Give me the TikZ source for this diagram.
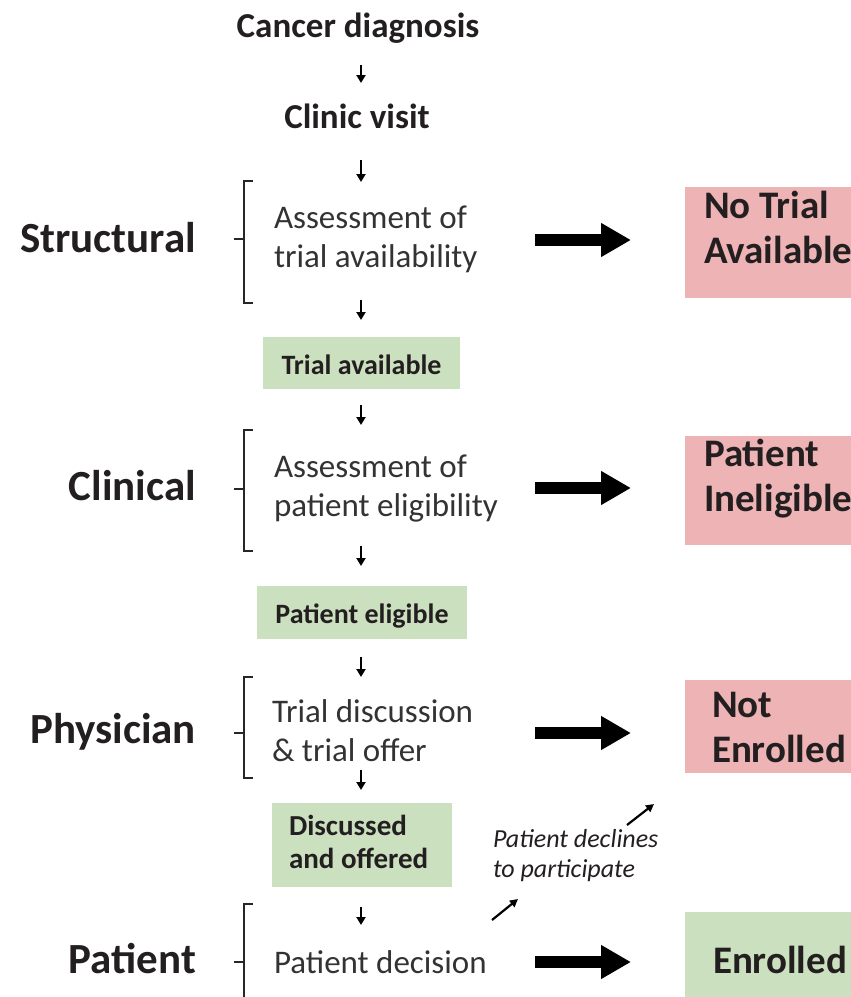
\documentclass[tikz,border=0pt]{standalone}
\usepackage{fontspec}
\setmainfont{Carlito}
\usetikzlibrary{arrows.meta,calc}
\definecolor{redbox}{HTML}{EDB3B5}
\definecolor{greenbox}{HTML}{CBE0BF}
\definecolor{darktext}{HTML}{231F20}
\definecolor{graytext}{HTML}{333333}
\tikzset{
  x=1pt, y=-1pt,
  every node/.style={inner sep=0pt, outer sep=0pt},
  toptext/.style={font=\fontsize{35}{40}\selectfont\bfseries, text=darktext, anchor=base},
  sidelabel/.style={font=\fontsize{43}{48}\selectfont\bfseries, text=darktext, anchor=base east},
  steptext/.style={font=\fontsize{33}{39}\selectfont, text=graytext, anchor=base west, align=left},
  outtext/.style={font=\fontsize{39}{45}\selectfont\bfseries, text=darktext, anchor=base west, align=left},
  greenlabel/.style={fill=greenbox, font=\fontsize{28}{33}\selectfont\bfseries, text=darktext},
  smallarr/.style={line width=2.2pt, -{Triangle[length=8pt,width=9pt]}, draw=black},
  bigarr/.style={line width=12pt, -{Triangle[length=30pt,width=32pt]}, draw=black},
  diagarr/.style={line width=2.2pt, -{Triangle[length=8pt,width=8pt]}, draw=black},
  bracketline/.style={line width=1.6pt, draw=black!85}
}
\begin{document}
\begin{tikzpicture}
\useasboundingbox (0,0) rectangle (851,997);

% top texts
\node[toptext] (cancer) at (358,37) {Cancer diagnosis};
\node[toptext] (clinic) at (357,128) {Clinic visit};

% side labels
\node[sidelabel] (structural) at (196,252) {Structural};
\node[sidelabel] (clinical) at (196,500) {Clinical};
\node[sidelabel] (physician) at (196,743) {Physician};
\node[sidelabel] (patient) at (196,973) {Patient};

% brackets
\foreach \name/\top/\mid/\bot in {b1/181/239/303, b2/430/489/551, b3/677/733/778, b4/904/962/1010}{
  \coordinate (\name top) at (244,\top);
  \coordinate (\name bot) at (244,\bot);
  \coordinate (\name mid) at (244,\mid);
  \draw[bracketline] ($(\name top)+(9,0)$) -- (\name top) -- (\name bot) -- ($(\name bot)+(9,0)$);
  \draw[bracketline] (\name mid) -- ($(\name mid)+(-10,0)$);
}

% step texts (base anchor = last line baseline)
\node[steptext] (avail) at (274,267) {Assessment of\\trial availability};
\node[steptext] (elig) at (274,516) {Assessment of\\patient eligibility};
\node[steptext] (discuss) at (272,761) {Trial discussion\\\& trial offer};
\node[steptext] (decision) at (274,973) {Patient decision};

% green labels
\node[greenlabel, minimum width=197pt, minimum height=52pt, text height=22pt, text depth=0pt] (trialav) at (361.5,363) {Trial available};
\node[greenlabel, minimum width=210pt, minimum height=53pt, text height=22pt, text depth=0pt] (pateli) at (362,612.5) {Patient eligible};
\node[fill=greenbox, minimum width=180pt, minimum height=84pt] (discbox) at (362,845) {};
\node[font=\fontsize{29}{33}\selectfont\bfseries, text=darktext, anchor=base west, align=left] (disctext) at (289,868) {Discussed\\and offered};

% outcome boxes
\node[fill=redbox, minimum width=170pt, minimum height=111pt] (nobox) at (770,242.5) {};
\node[fill=redbox, minimum width=170pt, minimum height=109pt] (inbox) at (770,490.5) {};
\node[fill=redbox, minimum width=170pt, minimum height=93pt] (notbox) at (770,726.5) {};
\node[fill=greenbox, minimum width=170pt, minimum height=90pt] (enbox) at (770,957) {};
\node[outtext] (notrial) at (704,263) {No Trial\\Available};
\node[outtext] (inelig) at (704,511) {Patient\\Ineligible};
\node[outtext] (notenr) at (712,762) {Not\\Enrolled};
\node[outtext] (enr) at (713,973) {Enrolled};

% declines note
\node[font=\fontsize{26}{30}\selectfont\itshape, text=darktext, anchor=base west, align=left] (declines) at (493,877) {Patient declines\\to participate};

% small vertical arrows
\foreach \i/\a/\b in {1/65/83, 2/160/182, 3/300/320, 4/405/425, 5/546/566, 6/657/677, 7/770/790, 8/907/925}{
  \coordinate (s\i a) at (361,\a);
  \coordinate (s\i b) at (361,\b);
  \draw[smallarr] (s\i a) -- (s\i b);
}

% big arrows
\foreach \i/\y in {1/240, 2/488, 3/733, 4/962}{
  \coordinate (g\i a) at (535,\y);
  \coordinate (g\i b) at (631,\y);
  \draw[bigarr] (g\i a) -- (g\i b);
}

% diagonal arrows
\coordinate (d1a) at (492,920);
\coordinate (d1b) at (518,899);
\coordinate (d2a) at (627,825);
\coordinate (d2b) at (654,804);
\draw[diagarr] (d1a) -- (d1b);
\draw[diagarr] (d2a) -- (d2b);
\end{tikzpicture}
\end{document}
